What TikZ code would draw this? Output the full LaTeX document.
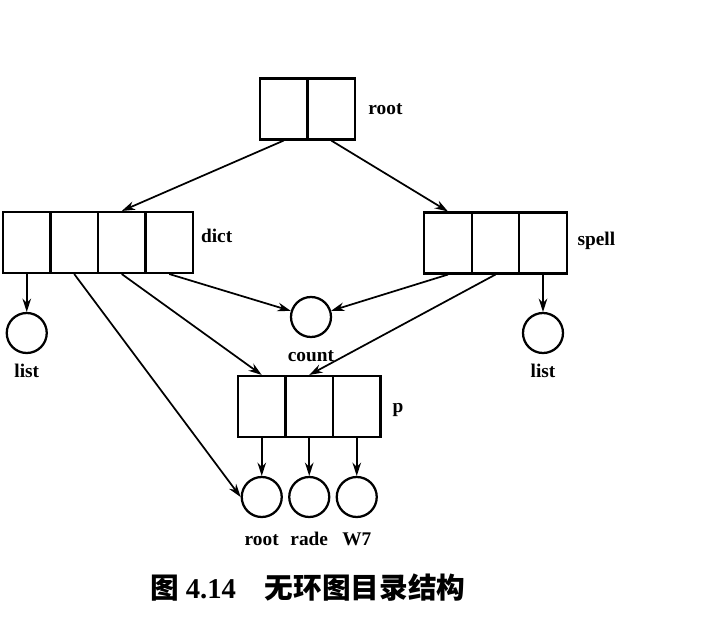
\documentclass[tikz,border=0pt]{standalone}
\usepackage{fontspec}
\setmainfont{Liberation Serif}
\newfontfamily\cjk{Noto Sans CJK SC}
\usetikzlibrary{positioning, arrows.meta}

\begin{document}
\begin{tikzpicture}[x=0.75pt, y=-0.75pt,
        cell/.style={draw, line width=1.8pt, minimum width=35.6pt,
            minimum height=45.5pt, inner sep=0pt},
        leaf/.style={draw, circle, line width=1.7pt, minimum size=30pt,
            inner sep=0pt},
        lbl/.style={font=\fontsize{14.5}{17}\selectfont\bfseries, inner sep=1pt,
            text height=10.5pt, text depth=3pt},
        arr/.style={-{Stealth[length=10pt, width=6.5pt]}, line width=1.3pt}
    ]

    \useasboundingbox (0,0) rectangle (701,633);

    % directory boxes
    \node[cell] (root1) at (283.75, 109) {};
    \node[cell] (root2) at (331.25, 109) {};
    \node[lbl, right=8pt of root2] {root};

    \node[cell] (dict1) at (26.75, 242.5) {};
    \node[cell] (dict2) at (74.25, 242.5) {};
    \node[cell] (dict3) at (121.75, 242.5) {};
    \node[cell] (dict4) at (169.25, 242.5) {};
    \node[lbl, right=4pt of dict4, yshift=4pt] {dict};

    \node[cell] (spell1) at (448, 243) {};
    \node[cell] (spell2) at (495.5, 243) {};
    \node[cell] (spell3) at (543, 243) {};
    \node[lbl, right=6pt of spell3, yshift=2pt] {spell};

    \node[cell] (p1) at (261.75, 406.5) {};
    \node[cell] (p2) at (309.25, 406.5) {};
    \node[cell] (p3) at (356.75, 406.5) {};
    \node[lbl, right=7pt of p3, yshift=-1pt] {p};

    % files
    \node[leaf] (listL) at (26.75, 333) {};
    \node[lbl, below=5.5pt of listL] {list};
    \node[leaf] (count) at (311, 317) {};
    \node[lbl, below=6pt of count] {count};
    \node[leaf] (listR) at (543, 333) {};
    \node[lbl, below=5.5pt of listR] {list};

    \node[leaf] (rootf) at (261.75, 497) {};
    \node[lbl, below=8.5pt of rootf] {root};
    \node[leaf] (rade) at (309.25, 497) {};
    \node[lbl, below=8.5pt of rade] {rade};
    \node[leaf] (w7) at (356.75, 497) {};
    \node[lbl, below=8.5pt of w7] {W7};

    % links
    \draw[arr] (root1.south) -- (dict3.north);
    \draw[arr] (root2.south) -- (spell1.north);

    \draw[arr] (dict1.south) -- (listL);
    \draw[arr] (dict2.south) -- (rootf.west);
    \draw[arr] (dict3.south) -- (p1.north);
    \draw[arr] (dict4.south) -- (count);

    \draw[arr] (spell1.south) -- (count);
    \draw[arr] (spell2.south) -- (p2.north);
    \draw[arr] (spell3.south) -- (listR);

    \draw[arr] (p1.south) -- (rootf);
    \draw[arr] (p2.south) -- (rade);
    \draw[arr] (p3.south) -- (w7);

    \node[font=\fontsize{21.5}{25}\cjk\bfseries, inner sep=0pt] (caption) at (308, 588)
        {图 {\rmfamily 4.14}\quad 无环图目录结构};

\end{tikzpicture}
\end{document}
